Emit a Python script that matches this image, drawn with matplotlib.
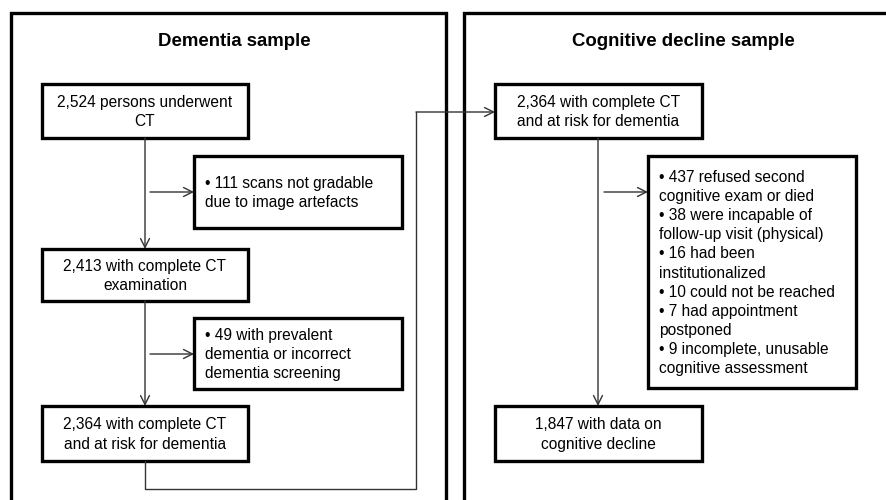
import matplotlib.pyplot as plt
from matplotlib.patches import Rectangle

plt.rcParams['font.family'] = ['Liberation Sans', 'DejaVu Sans']

# panel titles
panel_titles = ["Dementia sample", "Cognitive decline sample"]

# main flow boxes (left column, then right column)
left_steps = [
    "2,524 persons underwent\nCT",
    "2,413 with complete CT\nexamination",
    "2,364 with complete CT\nand at risk for dementia",
]
right_steps = [
    "2,364 with complete CT\nand at risk for dementia",
    "1,847 with data on\ncognitive decline",
]

# exclusion boxes
left_exclusions = [
    "\u2022 111 scans not gradable\ndue to image artefacts",
    "\u2022 49 with prevalent\ndementia or incorrect\ndementia screening",
]
right_exclusions = [
    "\u2022 437 refused second\ncognitive exam or died\n"
    "\u2022 38 were incapable of\nfollow-up visit (physical)\n"
    "\u2022 16 had been\ninstitutionalized\n"
    "\u2022 10 could not be reached\n"
    "\u2022 7 had appointment\npostponed\n"
    "\u2022 9 incomplete, unusable\ncognitive assessment",
]

fig = plt.figure(figsize=(8.86, 5.0), dpi=100)
ax = fig.add_axes([0, 0, 1, 1])
ax.set_xlim(0, 886)
ax.set_ylim(500, 0)
ax.axis('off')

FS = 11.2
LS = 1.34
box_lw = 2.4
line_kw = dict(color='#333333', lw=1.0)


def box(x0, y0, x1, y1, text, align='center'):
    ax.add_patch(Rectangle((x0, y0), x1 - x0, y1 - y0, fill=False,
                           ec='black', lw=box_lw))
    if align == 'center':
        ax.text((x0 + x1) / 2, (y0 + y1) / 2 + 1, text, ha='center', va='center',
                fontsize=FS, linespacing=LS, multialignment='center')
    else:
        ax.text(x0 + 11, (y0 + y1) / 2 + 1, text, ha='left', va='center',
                fontsize=FS, linespacing=LS, multialignment='left')


def arrow(x0, y0, x1, y1):
    ax.annotate("", xy=(x1, y1), xytext=(x0, y0),
                arrowprops=dict(arrowstyle='->', color='#333333', lw=1.0,
                                mutation_scale=16, shrinkA=0, shrinkB=0))


# outer panels (open at bottom)
ax.plot([11, 11, 446, 446], [505, 13, 13, 505], color='black', lw=box_lw,
        solid_joinstyle='miter')
ax.plot([464, 464, 890], [505, 13, 13], color='black', lw=box_lw,
        solid_joinstyle='miter')
ax.text(234, 41, panel_titles[0], ha='center', va='center', fontsize=13.4,
        fontweight='bold')
ax.text(683, 41, panel_titles[1], ha='center', va='center', fontsize=13.4,
        fontweight='bold')

# left column
lx0, lx1 = 42, 248
ly = [(84, 138), (249, 301), (406, 461)]
for (y0, y1), t in zip(ly, left_steps):
    box(lx0, y0, lx1, y1, t)
ex = [(156, 228), (318, 389)]
for (y0, y1), t in zip(ex, left_exclusions):
    box(194, y0, 402, y1, t, align='left')

cx = 145
arrow(cx, 138, cx, 249)
arrow(cx, 301, cx, 406)
arrow(150, 192, 194, 192)
arrow(150, 354, 194, 354)

# connector from left to right
ax.plot([cx, cx, 416, 416], [461, 489, 489, 112], **line_kw)
arrow(416, 112, 495, 112)

# right column
rx0, rx1 = 495, 702
ry = [(84, 138), (406, 461)]
for (y0, y1), t in zip(ry, right_steps):
    box(rx0, y0, rx1, y1, t)
box(648, 156, 856, 388, right_exclusions[0], align='left')

rcx = 598
arrow(rcx, 138, rcx, 406)
arrow(604, 192, 648, 192)

fig.savefig("out.png", dpi=100)
